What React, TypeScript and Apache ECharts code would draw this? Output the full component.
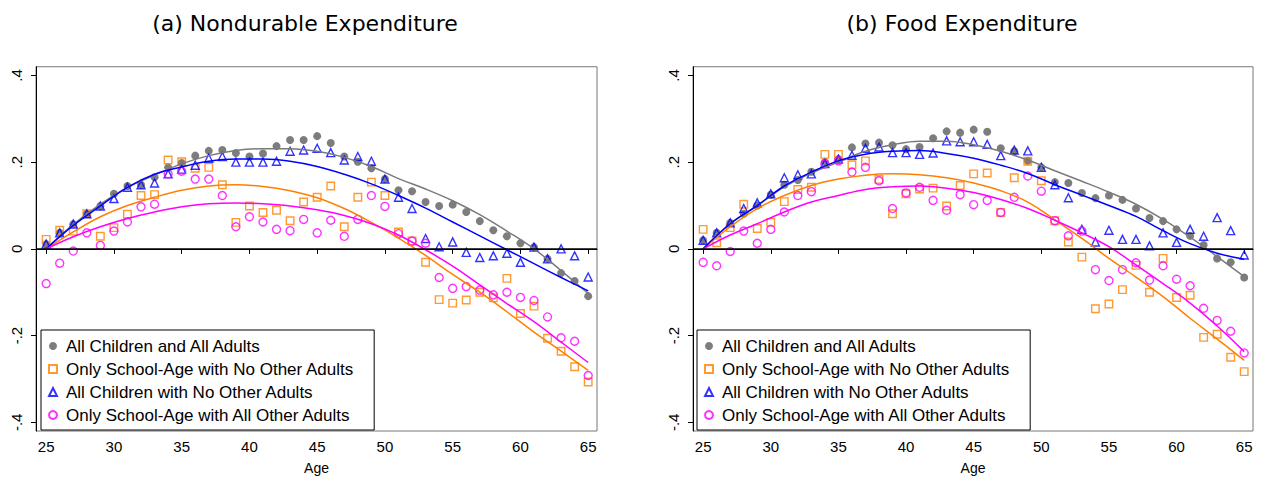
import React, { useEffect, useRef } from "react";
import * as echarts from "echarts";

const AGES = [25, 26, 27, 28, 29, 30, 31, 32, 33, 34, 35, 36, 37, 38, 39, 40, 41, 42, 43, 44, 45, 46, 47, 48, 49, 50, 51, 52, 53, 54, 55, 56, 57, 58, 59, 60, 61, 62, 63, 64, 65];
const FIT_AGES = [25, 27, 29, 31, 33, 35, 37, 39, 41, 43, 45, 47, 49, 51, 53, 55, 57, 59, 61, 63, 65];
const X_TICKS = [25, 30, 35, 40, 45, 50, 55, 60, 65];
const Y_TICKS = [-0.4, -0.2, 0, 0.2, 0.4];
const Y_TICK_LABELS = ["-.4", "-.2", "0", ".2", ".4"];
const TITLES = ["(a) Nondurable Expenditure", "(b) Food Expenditure"];
const SERIES_NAMES = [
  "All Children and All Adults",
  "Only School-Age with No Other Adults",
  "All Children with No Other Adults",
  "Only School-Age with All Other Adults",
];

// (a) Nondurable expenditure: points
const ND_ALL = [0.011, 0.037, 0.057, 0.081, 0.099, 0.127, 0.145, 0.148, 0.165, 0.188, 0.198, 0.215, 0.226, 0.228, 0.221, 0.213, 0.22, 0.237, 0.251, 0.251, 0.26, 0.244, 0.213, 0.201, 0.186, 0.161, 0.135, 0.133, 0.108, 0.099, 0.102, 0.085, 0.064, 0.043, 0.029, 0.013, 0.004, -0.023, -0.056, -0.074, -0.109];
const ND_SCHOOL_NO = [0.022, 0.043, 0.041, 0.081, 0.029, 0.049, 0.08, 0.123, 0.125, 0.205, 0.201, 0.186, 0.188, 0.148, 0.061, 0.099, 0.084, 0.089, 0.065, 0.108, 0.119, 0.145, 0.051, 0.119, 0.154, 0.123, 0.039, 0.018, -0.031, -0.117, -0.125, -0.118, -0.1, -0.113, -0.068, -0.149, -0.132, -0.206, -0.236, -0.272, -0.307];
const ND_CHILD_NO = [0.011, 0.037, 0.057, 0.081, 0.099, 0.116, 0.142, 0.148, 0.152, 0.173, 0.184, 0.193, 0.209, 0.213, 0.2, 0.2, 0.2, 0.202, 0.225, 0.228, 0.232, 0.222, 0.205, 0.213, 0.202, 0.161, 0.119, 0.093, 0.024, 0.005, 0.016, -0.008, -0.02, -0.016, -0.01, -0.031, 0.004, -0.023, 0.0, -0.016, -0.065];
const ND_SCHOOL_ALL = [-0.08, -0.033, -0.005, 0.037, 0.008, 0.041, 0.062, 0.097, 0.103, 0.173, 0.179, 0.161, 0.161, 0.123, 0.051, 0.074, 0.062, 0.045, 0.042, 0.068, 0.037, 0.066, 0.029, 0.068, 0.123, 0.098, 0.035, 0.018, 0.013, -0.066, -0.091, -0.087, -0.095, -0.106, -0.1, -0.112, -0.119, -0.157, -0.205, -0.213, -0.292];

// (a) fitted curves
const ND_ALL_FIT = [0, 0.056, 0.103, 0.142, 0.17, 0.196, 0.215, 0.227, 0.231, 0.231, 0.225, 0.211, 0.19, 0.162, 0.138, 0.111, 0.079, 0.041, 0.0, -0.05, -0.103];
const ND_SCHOOL_NO_FIT = [0, 0.039, 0.074, 0.1, 0.119, 0.135, 0.145, 0.148, 0.144, 0.134, 0.118, 0.093, 0.061, 0.025, -0.015, -0.059, -0.1, -0.145, -0.192, -0.236, -0.28];
const ND_CHILD_NO_FIT = [0, 0.054, 0.099, 0.142, 0.172, 0.189, 0.202, 0.207, 0.207, 0.202, 0.19, 0.172, 0.15, 0.123, 0.094, 0.062, 0.03, -0.002, -0.034, -0.066, -0.097];
const ND_SCHOOL_ALL_FIT = [0, 0.028, 0.051, 0.07, 0.085, 0.097, 0.104, 0.106, 0.104, 0.099, 0.09, 0.077, 0.058, 0.032, -0.002, -0.04, -0.083, -0.126, -0.168, -0.215, -0.262];

// (b) Food expenditure: points
const FD_ALL = [0.02, 0.037, 0.06, 0.081, 0.1, 0.125, 0.148, 0.159, 0.178, 0.2, 0.207, 0.234, 0.243, 0.245, 0.239, 0.23, 0.235, 0.255, 0.271, 0.268, 0.275, 0.27, 0.232, 0.225, 0.203, 0.188, 0.154, 0.152, 0.129, 0.117, 0.123, 0.113, 0.093, 0.071, 0.064, 0.045, 0.03, 0.009, -0.022, -0.031, -0.066];
const FD_SCHOOL_NO = [0.045, 0.014, 0.049, 0.103, 0.047, 0.061, 0.109, 0.137, 0.142, 0.218, 0.218, 0.194, 0.203, 0.16, 0.081, 0.127, 0.138, 0.14, 0.099, 0.146, 0.173, 0.175, 0.084, 0.164, 0.202, 0.157, 0.065, 0.016, -0.019, -0.138, -0.127, -0.094, -0.038, -0.1, -0.022, -0.112, -0.107, -0.204, -0.197, -0.25, -0.283];
const FD_CHILD_NO = [0.02, 0.037, 0.06, 0.093, 0.106, 0.127, 0.164, 0.171, 0.173, 0.197, 0.207, 0.216, 0.232, 0.235, 0.222, 0.222, 0.218, 0.221, 0.249, 0.247, 0.247, 0.241, 0.215, 0.228, 0.226, 0.188, 0.148, 0.118, 0.045, 0.016, 0.043, 0.022, 0.022, 0.007, 0.037, 0.015, 0.045, 0.029, 0.072, 0.042, -0.014];
const FD_SCHOOL_ALL = [-0.031, -0.039, -0.006, 0.041, 0.013, 0.045, 0.085, 0.123, 0.132, 0.196, 0.203, 0.177, 0.188, 0.157, 0.093, 0.129, 0.142, 0.112, 0.089, 0.125, 0.102, 0.112, 0.084, 0.119, 0.168, 0.133, 0.065, 0.03, 0.041, -0.048, -0.073, -0.048, -0.032, -0.072, -0.039, -0.07, -0.085, -0.137, -0.165, -0.19, -0.24];

// (b) fitted curves
const FD_ALL_FIT = [0, 0.058, 0.1, 0.143, 0.175, 0.2, 0.225, 0.24, 0.248, 0.248, 0.24, 0.225, 0.205, 0.18, 0.156, 0.131, 0.103, 0.068, 0.027, -0.018, -0.064];
const FD_SCHOOL_NO_FIT = [0, 0.051, 0.093, 0.123, 0.146, 0.161, 0.17, 0.173, 0.171, 0.164, 0.152, 0.134, 0.108, 0.067, 0.024, -0.022, -0.065, -0.11, -0.16, -0.208, -0.257];
const FD_CHILD_NO_FIT = [0, 0.058, 0.1, 0.145, 0.177, 0.203, 0.218, 0.225, 0.227, 0.22, 0.209, 0.193, 0.174, 0.148, 0.124, 0.1, 0.075, 0.042, 0.012, -0.01, -0.024];
const FD_SCHOOL_ALL_FIT = [0, 0.032, 0.058, 0.085, 0.108, 0.123, 0.137, 0.143, 0.145, 0.14, 0.13, 0.114, 0.093, 0.066, 0.037, 0.005, -0.037, -0.08, -0.125, -0.178, -0.237];

const PANELS = [
  { points: [ND_ALL, ND_SCHOOL_NO, ND_CHILD_NO, ND_SCHOOL_ALL], fits: [ND_ALL_FIT, ND_SCHOOL_NO_FIT, ND_CHILD_NO_FIT, ND_SCHOOL_ALL_FIT] },
  { points: [FD_ALL, FD_SCHOOL_NO, FD_CHILD_NO, FD_SCHOOL_ALL], fits: [FD_ALL_FIT, FD_SCHOOL_NO_FIT, FD_CHILD_NO_FIT, FD_SCHOOL_ALL_FIT] },
];

const MARKERS = [
  { symbol: "circle", fill: "#5c5c5c", stroke: "#5c5c5c", line: "#7a7a7a" },
  { symbol: "rect", fill: "rgba(0,0,0,0)", stroke: "#ff8000", line: "#ff8000" },
  { symbol: "triangle", fill: "rgba(0,0,0,0)", stroke: "#0000ff", line: "#0000ff" },
  { symbol: "circle", fill: "rgba(0,0,0,0)", stroke: "#ff00ff", line: "#ff00ff" },
];

const GRID_LEFT = [36, 693];
const GRID_WIDTH = [561, 560];
const TITLE_X = [300, 957];
const LEGEND_X = [41, 697];
const FONT = "'Liberation Sans', Arial, sans-serif";
const TITLE_FONT = "'DejaVu Sans', sans-serif";

function pairs(xs: number[], ys: number[]) {
  return xs.map((x, i) => [x, ys[i]]);
}

function yLabel(v: number) {
  const i = Y_TICKS.findIndex((t) => Math.abs(t - v) < 1e-9);
  return i >= 0 ? Y_TICK_LABELS[i] : "";
}

export default function App() {
  const ref = useRef<HTMLDivElement>(null);
  useEffect(() => {
    if (!ref.current) return;
    const chart = echarts.init(ref.current, undefined, { renderer: "svg" });
    const series: any[] = [];
    PANELS.forEach((panel, p) => {
      panel.points.forEach((vals, k) => {
        const m = MARKERS[k];
        series.push({
          type: "scatter",
          name: SERIES_NAMES[k],
          xAxisIndex: p,
          yAxisIndex: p,
          symbol: m.symbol,
          symbolKeepAspect: true,
          symbolSize: k === 1 ? 7.5 : 8,
          itemStyle: { color: m.fill, borderColor: m.stroke, borderWidth: k === 0 ? 0 : 1.4 },
          data: pairs(AGES, vals),
          z: 2,
          markLine:
            k === 0
              ? {
                  silent: true,
                  symbol: "none",
                  label: { show: false },
                  lineStyle: { color: "#000", width: 1.5, type: "solid" },
                  data: [{ yAxis: 0 }],
                }
              : undefined,
        });
      });
      panel.fits.forEach((vals, k) => {
        const m = MARKERS[k];
        series.push({
          type: "line",
          name: "fit" + p + "-" + k,
          xAxisIndex: p,
          yAxisIndex: p,
          showSymbol: false,
          smooth: 0.4,
          silent: true,
          lineStyle: { color: m.line, width: 1.5 },
          itemStyle: { color: m.line },
          data: pairs(FIT_AGES, vals),
          z: 3,
        });
      });
    });

    chart.setOption({
      animation: false,
      backgroundColor: "#fff",
      title: TITLES.map((t, p) => ({
        text: t,
        left: TITLE_X[p],
        top: 7,
        textAlign: "center",
        textStyle: { fontSize: 22, fontWeight: "normal", color: "#000", fontFamily: TITLE_FONT },
      })),
      legend: [0, 1].map((p) => ({
        data: SERIES_NAMES,
        orient: "vertical",
        left: LEGEND_X[p],
        top: 330,
        padding: [7, 20, 6, 7],
        itemWidth: 8,
        itemHeight: 8,
        itemGap: 5,
        symbolKeepAspect: true,
        backgroundColor: "#fff",
        borderColor: "#000",
        borderWidth: 1,
        borderRadius: 0,
        selectedMode: false,
        textStyle: { fontSize: 17, color: "#000", fontFamily: FONT, lineHeight: 18, padding: [0, 0, 0, 4] },
      })),
      grid: [0, 1].map((p) => ({
        left: GRID_LEFT[p],
        top: 66.75,
        width: GRID_WIDTH[p],
        height: 367.5,
        show: true,
        borderColor: "#777",
        borderWidth: 1,
        backgroundColor: "#fff",
      })),
      xAxis: [0, 1].map((p) => ({
        type: "value",
        gridIndex: p,
        min: 24.25,
        max: 65.65,
        name: "Age",
        nameLocation: "middle",
        nameGap: 30,
        nameTextStyle: { fontSize: 14, color: "#000", fontFamily: FONT },
        axisLine: { show: true, lineStyle: { color: "#000", width: 1 } },
        axisTick: { show: true, length: 5, customValues: X_TICKS, lineStyle: { color: "#000" } },
        axisLabel: { customValues: X_TICKS, fontSize: 15, color: "#000", margin: 8, fontFamily: FONT },
        splitLine: { show: false },
      })),
      yAxis: [0, 1].map((p) => ({
        type: "value",
        gridIndex: p,
        min: -0.42,
        max: 0.42,
        axisLine: { show: true, lineStyle: { color: "#000", width: 1 } },
        axisTick: { show: true, length: 5, customValues: Y_TICKS, lineStyle: { color: "#000" } },
        axisLabel: {
          customValues: Y_TICKS,
          formatter: yLabel,
          rotate: 90,
          fontSize: 15,
          color: "#000",
          margin: 12,
          fontFamily: FONT,
        },
        splitLine: { show: false },
      })),
      series,
    });
    return () => chart.dispose();
  }, []);
  return (
    <div
      ref={ref}
      style={{ position: "absolute", left: 0, top: 0, width: 1262, height: 480 }}
    />
  );
}
